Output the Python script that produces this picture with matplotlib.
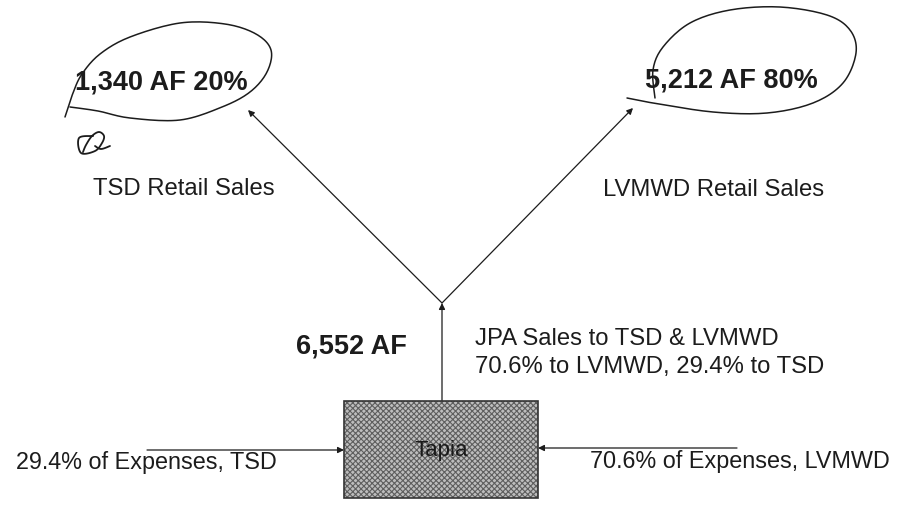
import matplotlib

matplotlib.use("Agg")
import matplotlib.pyplot as plt
import numpy as np
from matplotlib.patches import Rectangle

plt.rcParams["font.family"] = ["Liberation Sans", "DejaVu Sans"]
plt.rcParams["hatch.linewidth"] = 0.8

INK = "#1c1c1c"

# node positions, in pixel coordinates of the 899x508 page (y grows downward)
JUNCTION = (442, 303)
TSD_TIP = (248, 110)
LVMWD_TIP = (633, 108)
BOX = (344, 401, 194, 97)          # x, y, width, height
LEFT_IN = (147, 450)
RIGHT_IN = (737, 448)

# texts: (label, x, baseline y, size, weight, align)
labels = [
    ("1,340 AF 20%", 75, 90, 19.5, "bold", "left"),
    ("5,212 AF 80%", 645, 87, 19.5, "bold", "left"),
    ("TSD Retail Sales", 93, 195, 17.2, "normal", "left"),
    ("LVMWD Retail Sales", 603, 196, 17.2, "normal", "left"),
    ("6,552 AF", 296, 353, 19.5, "bold", "left"),
    ("JPA Sales to TSD & LVMWD", 475, 345, 17.2, "normal", "left"),
    ("70.6% to LVMWD, 29.4% to TSD", 475, 373, 17.2, "normal", "left"),
    ("29.4% of Expenses, TSD", 146, 469, 16.8, "normal", "center"),
    ("70.6% of Expenses, LVMWD", 740, 468, 16.8, "normal", "center"),
]

# hand-drawn loops around the totals (waypoints of the pen stroke)
loop_tsd = [(65, 117), (73, 93), (82, 74), (100, 54), (130, 37), (180, 23),
            (225, 24), (256, 34), (271, 50), (267, 72), (250, 92), (222, 107),
            (180, 120), (130, 118), (98, 111), (70, 107)]
loop_lvmwd = [(627, 98), (653, 103), (713, 112), (767, 113), (813, 103),
              (843, 83), (856, 53), (850, 30), (827, 15), (780, 7), (730, 10),
              (690, 23), (663, 47), (653, 70), (655, 98)]
initials = [(93, 136), (79, 138), (81, 153), (95, 151), (102, 143), (104, 136),
            (99, 132), (92, 136), (86, 145), (83, 152)]
initials_tail = [(95, 146), (101, 149), (110, 146)]


def smooth(points, n=20):
    """Catmull-Rom pass through the waypoints."""
    p = np.array(points, dtype=float)
    p = np.vstack([p[0], p, p[-1]])
    out = []
    t = np.linspace(0, 1, n, endpoint=False)[:, None]
    for i in range(1, len(p) - 2):
        p0, p1, p2, p3 = p[i - 1], p[i], p[i + 1], p[i + 2]
        out.append(0.5 * ((2 * p1) + (-p0 + p2) * t
                          + (2 * p0 - 5 * p1 + 4 * p2 - p3) * t ** 2
                          + (-p0 + 3 * p1 - 3 * p2 + p3) * t ** 3))
    out.append(p[-2][None, :])
    return np.vstack(out)


fig = plt.figure(figsize=(8.99, 5.08), dpi=100)
ax = fig.add_axes([0, 0, 1, 1])
ax.set_xlim(0, 899); ax.set_ylim(508, 0); ax.axis("off")

arrow = dict(arrowstyle="-|>", color=INK, lw=0.9, mutation_scale=9, shrinkA=0, shrinkB=0)
bx, by, bw, bh = BOX
ax.annotate("", xy=JUNCTION, xytext=(JUNCTION[0], by), arrowprops=arrow)
ax.annotate("", xy=TSD_TIP, xytext=JUNCTION, arrowprops=arrow)
ax.annotate("", xy=LVMWD_TIP, xytext=JUNCTION, arrowprops=arrow)
ax.annotate("", xy=(bx, LEFT_IN[1]), xytext=LEFT_IN, arrowprops=arrow)
ax.annotate("", xy=(bx + bw, RIGHT_IN[1]), xytext=RIGHT_IN, arrowprops=arrow)

# stippled fill of the scanned box
ax.add_patch(Rectangle((bx, by), bw, bh, facecolor="#bdbdbd", hatch="xxxxxx",
                       edgecolor="#5e5e5e", lw=0, zorder=2))
ax.add_patch(Rectangle((bx, by), bw, bh, facecolor="none", edgecolor="#333333",
                       lw=1.2, zorder=3))
ax.text(bx + bw / 2, by + bh / 2 + 1, "Tapia", ha="center", va="center",
        fontsize=16, color="#1a1a1a", zorder=4)

for txt, x, y, size, weight, align in labels:
    ax.text(x, y, txt, ha=align, va="baseline", fontsize=size,
            fontweight=weight, color=INK)

for pts, lw in ((loop_tsd, 1.1), (loop_lvmwd, 1.1), (initials, 1.3), (initials_tail, 1.3)):
    c = smooth(pts, n=12)
    ax.plot(c[:, 0], c[:, 1], color=INK, lw=lw, solid_capstyle="round")

fig.savefig("out.png", dpi=100, facecolor="white")
